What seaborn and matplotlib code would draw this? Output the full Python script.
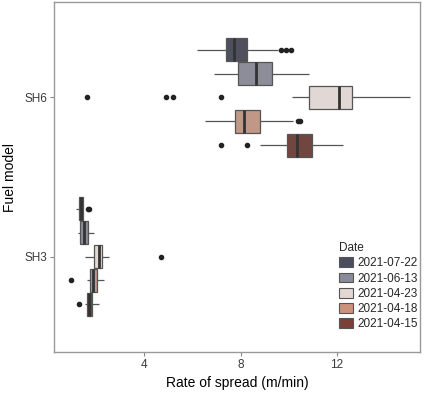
import matplotlib
matplotlib.use("Agg")
import matplotlib.pyplot as plt
from matplotlib.patches import Patch
import seaborn as sns
import pandas as pd

# observations per fuel model and date (rate of spread, m/min)
sh6_0722 = [6.20, 6.60, 6.90, 7.20, 7.38, 7.50, 7.60, 7.70, 7.74, 7.85, 8.00, 8.15, 8.28, 9.55, 9.70, 9.90, 10.10]
sh6_0613 = [6.91, 7.40, 7.91, 8.30, 8.64, 9.00, 9.32, 10.10, 10.86]
sh6_0423 = [1.63, 4.90, 5.21, 7.20, 10.13, 10.86, 11.10, 11.40, 11.70, 11.90, 12.08,
            12.20, 12.30, 12.40, 12.50, 12.62, 13.00, 13.50, 14.00, 14.50, 15.05]
sh6_0418 = [6.52, 7.10, 7.50, 7.77, 7.95, 8.05, 8.15, 8.40, 8.60, 8.80, 10.17, 10.38, 10.46]
sh6_0415 = [7.20, 8.27, 8.81, 9.95, 10.10, 10.20, 10.34, 10.50, 10.80, 10.99, 11.40, 11.80, 12.25]

sh3_0722 = [1.15, 1.20, 1.25, 1.29, 1.32, 1.34, 1.36, 1.38, 1.40, 1.43, 1.45, 1.67, 1.71]
sh3_0613 = [1.23, 1.28, 1.33, 1.40, 1.48, 1.56, 1.65, 1.78, 1.92]
sh3_0423 = [1.55, 1.75, 1.92, 2.02, 2.12, 2.19, 2.25, 2.52, 4.71]
sh3_0418 = [0.94, 1.63, 1.75, 1.82, 1.88, 1.95, 2.03, 2.15, 2.31]
sh3_0415 = [1.28, 1.52, 1.63, 1.67, 1.71, 1.77, 1.83, 1.98, 2.12]

models = ["SH6", "SH3"]
dates = ["2021-07-22", "2021-06-13", "2021-04-23", "2021-04-18", "2021-04-15"]
colors = ["#4b4e5f", "#8a8b9a", "#e3d6d3", "#cb937d", "#7a4038"]

groups = {
    ("SH6", "2021-07-22"): sh6_0722,
    ("SH6", "2021-06-13"): sh6_0613,
    ("SH6", "2021-04-23"): sh6_0423,
    ("SH6", "2021-04-18"): sh6_0418,
    ("SH6", "2021-04-15"): sh6_0415,
    ("SH3", "2021-07-22"): sh3_0722,
    ("SH3", "2021-06-13"): sh3_0613,
    ("SH3", "2021-04-23"): sh3_0423,
    ("SH3", "2021-04-18"): sh3_0418,
    ("SH3", "2021-04-15"): sh3_0415,
}

rows = []
for (m, d), vals in groups.items():
    for v in vals:
        rows.append({"model": m, "date": d, "ros": v})
df = pd.DataFrame(rows)


def main():
    sns.set_style("white")
    plt.rcParams["font.family"] = ["Liberation Sans", "DejaVu Sans"]

    fig = plt.figure(figsize=(4.28, 3.95), dpi=100)
    ax = fig.add_axes([54 / 428, 43 / 395, 366 / 428, 350 / 395])

    sns.boxplot(
        data=df, x="ros", y="model", hue="date",
        order=models, hue_order=dates, palette=colors,
        orient="h", width=0.75, gap=0.05, showcaps=False,
        linecolor="#555555", linewidth=0.9,
        medianprops={"color": "#333333", "linewidth": 2.0},
        flierprops={"marker": "o", "markersize": 3.0,
                    "markerfacecolor": "#222222", "markeredgecolor": "#222222"},
        legend=False, ax=ax,
    )

    ax.set_xlim(0.245, 15.46)
    ax.set_ylim(1.6, -0.6)
    ax.set_xticks([4, 8, 12])
    ax.set_xticklabels(["4", "8", "12"])
    ax.set_xlabel("Rate of spread (m/min)", fontsize=10, color="black", labelpad=4)
    ax.set_ylabel("Fuel model", fontsize=10, color="black", labelpad=5)
    ax.tick_params(axis="both", direction="out", length=3, width=0.8,
                   color="#888888", labelsize=8.5, labelcolor="#3a3a3a", pad=2,
                   bottom=True, left=True)
    for s in ax.spines.values():
        s.set_visible(True)
        s.set_color("#999999")
        s.set_linewidth(1.0)

    handles = [Patch(facecolor=c, edgecolor="#555555", linewidth=0.8) for c in colors]
    fig.legend(
        handles, dates, title="Date", loc="upper left",
        bbox_to_anchor=(331 / 428, 1 - 234 / 395), frameon=False,
        fontsize=8.5, title_fontsize=8.5, handlelength=1.2, handleheight=0.9,
        handletextpad=0.3, labelspacing=0.27, borderpad=0.2,
        alignment="left",
    )

    fig.savefig("out.png", dpi=100)
    plt.close(fig)


if __name__ == "__main__":
    main()
